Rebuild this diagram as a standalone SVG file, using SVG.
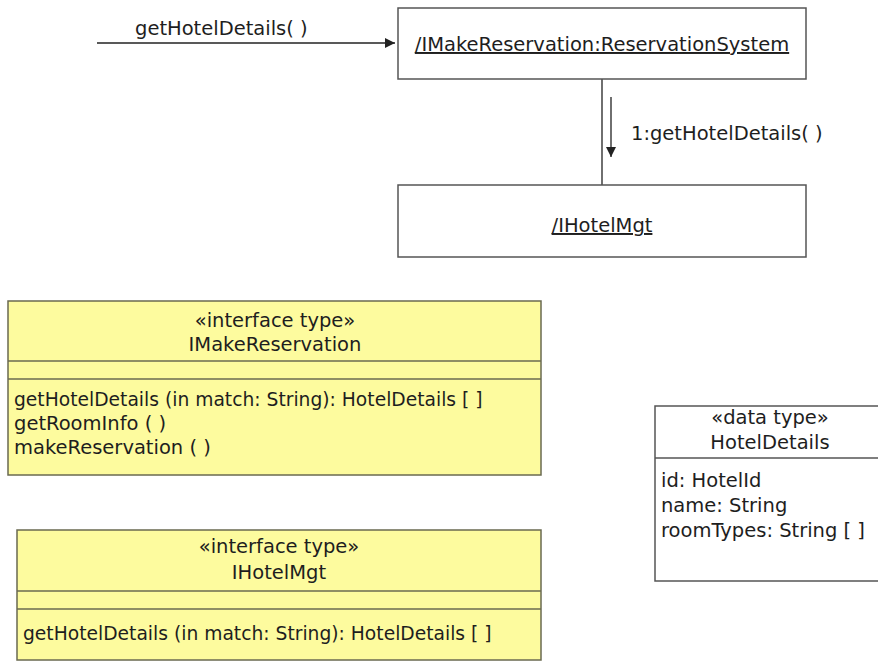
<svg xmlns="http://www.w3.org/2000/svg" width="878" height="662" viewBox="0 0 878 662">
  <style>
    text { font-family: "DejaVu Sans", "Liberation Sans", sans-serif; font-size: 19.5px; fill: #1e1e1e; }
    .mid { text-anchor: middle; }
    .u { text-decoration: underline; }
    .op { font-size: 18.7px; }
    .box { fill: #ffffff; stroke: #555555; stroke-width: 1.5; }
    .iface { fill: #fdfb9e; stroke: #6a6a50; stroke-width: 1.5; }
    .sep { stroke: #6a6a50; stroke-width: 1.5; }
    .sep2 { stroke: #555555; stroke-width: 1.5; }
    .wire { stroke: #222222; stroke-width: 1.3; fill: none; }
  </style>
  <defs>
    <marker id="head" viewBox="0 0 10 10" refX="10" refY="5" markerWidth="10" markerHeight="10" markerUnits="userSpaceOnUse" orient="auto">
      <path d="M0,0 L10,5 L0,10 Z" fill="#222222"/>
    </marker>
  </defs>
  <rect width="878" height="662" fill="#ffffff"/>

  <!-- connectors -->
  <g id="connectors">
    <line class="wire" x1="97" y1="43" x2="395" y2="43" marker-end="url(#head)"/>
    <text x="135" y="35">getHotelDetails( )</text>
    <line class="wire" x1="602" y1="79" x2="602" y2="185"/>
    <line class="wire" x1="611" y1="97" x2="611" y2="157" marker-end="url(#head)"/>
    <text x="631" y="140">1:getHotelDetails( )</text>
  </g>

  <!-- collaboration objects -->
  <g id="reservation-system">
    <rect class="box" x="398" y="8" width="408" height="71"/>
    <text class="mid u" x="602" y="51">/IMakeReservation:ReservationSystem</text>
  </g>
  <g id="hotel-mgt">
    <rect class="box" x="398" y="185" width="408" height="72"/>
    <text class="mid u" x="602" y="232">/IHotelMgt</text>
  </g>

  <!-- interface type IMakeReservation -->
  <g id="imakereservation">
    <rect class="iface" x="8" y="301" width="533" height="174"/>
    <line class="sep" x1="8" y1="361" x2="541" y2="361"/>
    <line class="sep" x1="8" y1="379" x2="541" y2="379"/>
    <text class="mid" x="275" y="327">«interface type»</text>
    <text class="mid" x="275" y="351">IMakeReservation</text>
    <text class="op" x="14" y="406">getHotelDetails (in match: String): HotelDetails [ ]</text>
    <text x="14" y="430">getRoomInfo ( )</text>
    <text x="14" y="454">makeReservation ( )</text>
  </g>

  <!-- interface type IHotelMgt -->
  <g id="ihotelmgt">
    <rect class="iface" x="17" y="530" width="524" height="130"/>
    <line class="sep" x1="17" y1="591" x2="541" y2="591"/>
    <line class="sep" x1="17" y1="609" x2="541" y2="609"/>
    <text class="mid" x="279" y="553">«interface type»</text>
    <text class="mid" x="279" y="579">IHotelMgt</text>
    <text class="op" x="23" y="640">getHotelDetails (in match: String): HotelDetails [ ]</text>
  </g>

  <!-- data type HotelDetails -->
  <g id="hoteldetails">
    <rect class="box" x="655" y="406" width="230" height="175"/>
    <line class="sep2" x1="655" y1="458" x2="878" y2="458"/>
    <text class="mid" x="770" y="424">«data type»</text>
    <text class="mid" x="770" y="449">HotelDetails</text>
    <text x="661" y="487">id: HotelId</text>
    <text x="661" y="512">name: String</text>
    <text x="661" y="537">roomTypes: String [ ]</text>
  </g>
</svg>
